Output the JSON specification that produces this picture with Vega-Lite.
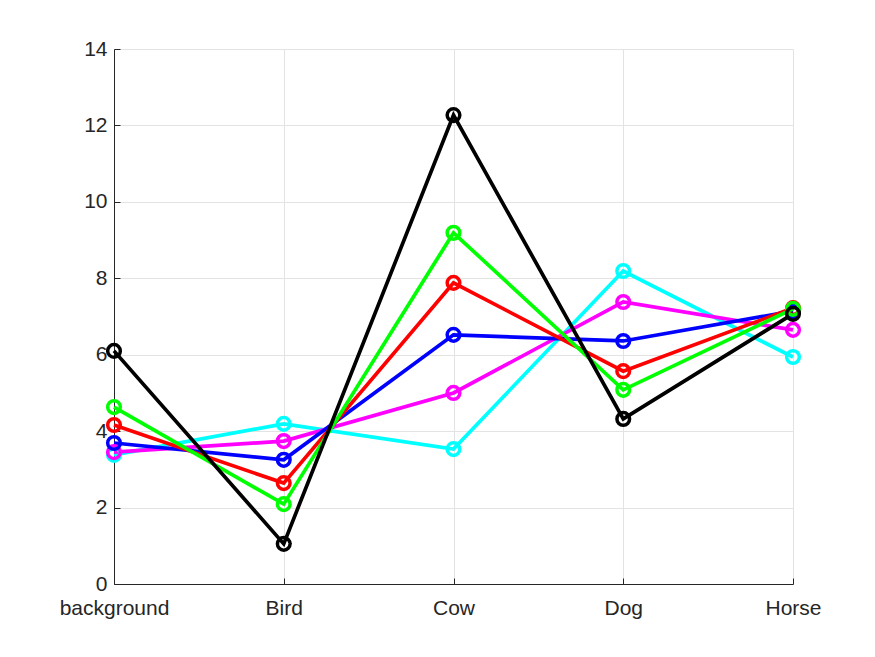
{
  "$schema": "https://vega.github.io/schema/vega-lite/v6.json",
  "autosize": {"type": "none"},
  "width": 679,
  "height": 535,
  "padding": {"left": 114, "top": 49, "right": 82, "bottom": 73},
  "background": "white",
  "config": {
    "view": {"stroke": null},
    "axis": {
      "labelFont": "Liberation Sans",
      "labelFontSize": 21,
      "labelColor": "#262626",
      "domainColor": "#262626",
      "domainWidth": 1,
      "tickColor": "#262626",
      "tickSize": -6,
      "gridColor": "#e3e3e3",
      "gridWidth": 1,
      "gridOpacity": 1
    }
  },
  "data": {
    "values": [
      {"s": "cyan", "cls": "background", "v": 3.38},
      {"s": "cyan", "cls": "Bird", "v": 4.19},
      {"s": "cyan", "cls": "Cow", "v": 3.53},
      {"s": "cyan", "cls": "Dog", "v": 8.19},
      {"s": "cyan", "cls": "Horse", "v": 5.94},
      {"s": "magenta", "cls": "background", "v": 3.45},
      {"s": "magenta", "cls": "Bird", "v": 3.74},
      {"s": "magenta", "cls": "Cow", "v": 5.0},
      {"s": "magenta", "cls": "Dog", "v": 7.38},
      {"s": "magenta", "cls": "Horse", "v": 6.65},
      {"s": "blue", "cls": "background", "v": 3.69},
      {"s": "blue", "cls": "Bird", "v": 3.25},
      {"s": "blue", "cls": "Cow", "v": 6.52},
      {"s": "blue", "cls": "Dog", "v": 6.36},
      {"s": "blue", "cls": "Horse", "v": 7.14},
      {"s": "red", "cls": "background", "v": 4.16},
      {"s": "red", "cls": "Bird", "v": 2.64},
      {"s": "red", "cls": "Cow", "v": 7.88},
      {"s": "red", "cls": "Dog", "v": 5.57},
      {"s": "red", "cls": "Horse", "v": 7.22},
      {"s": "green", "cls": "background", "v": 4.63},
      {"s": "green", "cls": "Bird", "v": 2.09},
      {"s": "green", "cls": "Cow", "v": 9.19},
      {"s": "green", "cls": "Dog", "v": 5.08},
      {"s": "green", "cls": "Horse", "v": 7.2},
      {"s": "black", "cls": "background", "v": 6.1},
      {"s": "black", "cls": "Bird", "v": 1.05},
      {"s": "black", "cls": "Cow", "v": 12.27},
      {"s": "black", "cls": "Dog", "v": 4.32},
      {"s": "black", "cls": "Horse", "v": 7.07}
    ]
  },
  "encoding": {
    "x": {
      "field": "cls",
      "type": "ordinal",
      "sort": ["background", "Bird", "Cow", "Dog", "Horse"],
      "scale": {"type": "point", "padding": 0},
      "axis": {"title": null, "labelAngle": 0, "labelPadding": 19, "grid": true}
    },
    "y": {
      "field": "v",
      "type": "quantitative",
      "scale": {"domain": [0, 14], "nice": false},
      "axis": {"title": null, "values": [0, 2, 4, 6, 8, 10, 12, 14], "labelPadding": 13, "grid": true}
    },
    "color": {
      "field": "s",
      "type": "nominal",
      "scale": {
        "domain": ["cyan", "magenta", "blue", "red", "green", "black"],
        "range": ["#00ffff", "#ff00ff", "#0000ff", "#ff0000", "#00ff00", "#000000"]
      },
      "legend": null
    }
  },
  "layer": [
    {"mark": {"type": "line", "strokeWidth": 3.7}},
    {"mark": {"type": "point", "shape": "circle", "filled": false, "size": 160, "strokeWidth": 3.5, "opacity": 1}}
  ]
}
